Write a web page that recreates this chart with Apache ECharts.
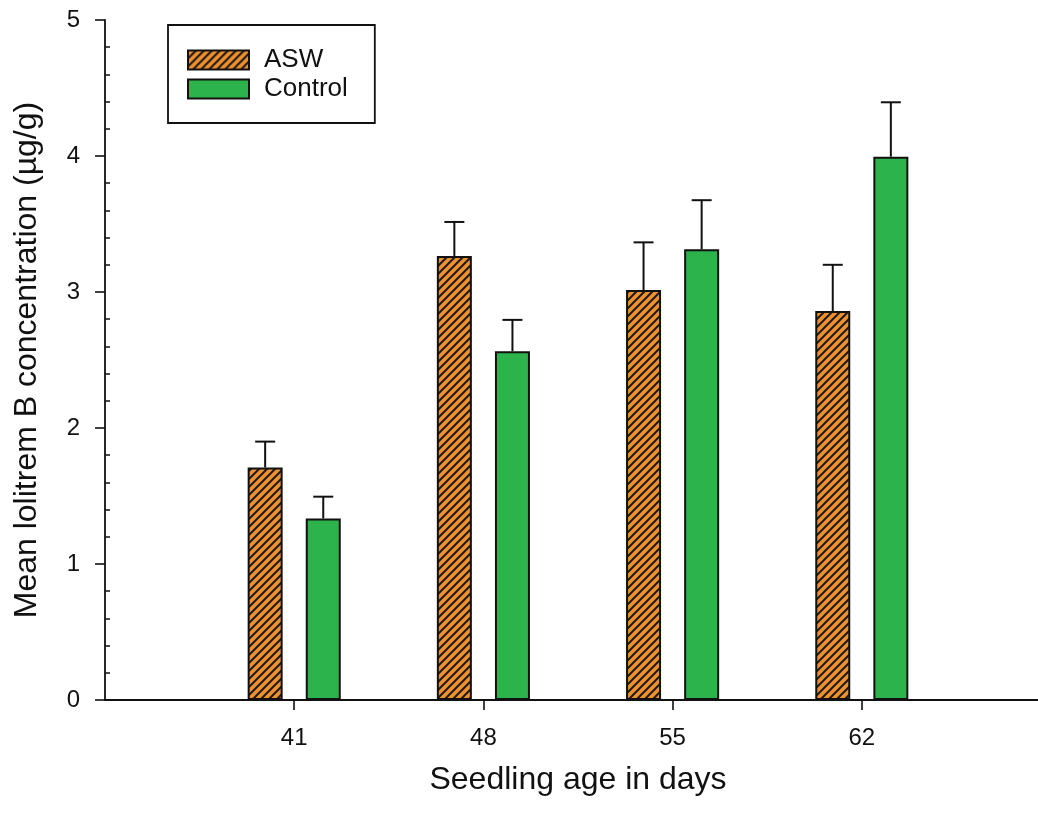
<!DOCTYPE html>
<html>
<head>
<meta charset="utf-8">
<script src="https://cdn.jsdelivr.net/npm/echarts@6/dist/echarts.min.js"></script>
<style>
  html, body { margin: 0; padding: 0; background: #fff; }
  #chart { width: 1038px; height: 814px; }
</style>
</head>
<body>
<div id="chart"></div>
<script>
// Seedling ages (days) and mean lolitrem B concentration with standard errors
const days = [41, 48, 55, 62];
const aswMean = [1.71, 3.265, 3.015, 2.86];
const aswErr = [0.19, 0.25, 0.35, 0.34];
const controlMean = [1.335, 2.565, 3.315, 3.995];
const controlErr = [0.16, 0.23, 0.36, 0.40];
const yTicks = [0, 1, 2, 3, 4, 5];

const FONT = '"Liberation Sans", Arial, Helvetica, sans-serif';
const INK = '#111';
const ORANGE = '#F0902C';
const GREEN = '#2DB34B';
const BAR_W = 35;
const BAR_GAP = 0.66;
const BAR_OFFSET = BAR_W * (1 + BAR_GAP) / 2;
const CAP_HALF = 10;

// Diagonal hatch fill for the ASW bars
function hatchPattern() {
  const s = 8;
  const c = document.createElement('canvas');
  c.width = s; c.height = s;
  const g = c.getContext('2d');
  g.fillStyle = ORANGE;
  g.fillRect(0, 0, s, s);
  g.strokeStyle = '#1a1a1a';
  g.lineWidth = 2;
  g.beginPath();
  g.moveTo(-1, s + 1); g.lineTo(s + 1, -1);
  g.moveTo(-2, 2); g.lineTo(2, -2);
  g.moveTo(s - 2, s + 2); g.lineTo(s + 2, s - 2);
  g.stroke();
  return { image: c, repeat: 'repeat' };
}

// Minor tick positions between the labelled integers
const minorTicks = [];
for (let i = 0; i < yTicks.length - 1; i++) {
  for (let k = 1; k < 5; k++) minorTicks.push(+(yTicks[i] + k * 0.2).toFixed(1));
}

function errorBars(name, means, errs, offset) {
  return {
    name: name,
    type: 'custom',
    z: 5,
    data: days.map((d, i) => [d, means[i], errs[i]]),
    encode: { x: 0, y: 1 },
    renderItem: function (params, api) {
      const x = api.value(0), m = api.value(1), e = api.value(2);
      const base = api.coord([x, m]);
      const top = api.coord([x, m + e]);
      const cx = base[0] + offset;
      const st = { stroke: INK, lineWidth: 2 };
      return {
        type: 'group',
        children: [
          { type: 'line', shape: { x1: cx, y1: base[1], x2: cx, y2: top[1] }, style: st },
          { type: 'line', shape: { x1: cx - CAP_HALF, y1: top[1], x2: cx + CAP_HALF, y2: top[1] }, style: st }
        ]
      };
    }
  };
}

const chart = echarts.init(document.getElementById('chart'), null, { renderer: 'canvas' });
chart.setOption({
  animation: false,
  backgroundColor: '#fff',
  textStyle: { fontFamily: FONT, color: INK },
  grid: { left: 105, top: 20, bottom: 114, right: -13, containLabel: false, outerBoundsMode: 'none' },
  legend: {
    data: ['ASW', 'Control'],
    orient: 'vertical',
    left: 168,
    top: 25,
    padding: [22, 27, 21, 19],
    itemWidth: 61,
    itemHeight: 19,
    itemGap: 3,
    icon: 'rect',
    borderColor: INK,
    borderWidth: 1.8,
    borderRadius: 0,
    textStyle: { fontSize: 26, fontFamily: FONT, color: INK, padding: [0, 0, 0, 10] }
  },
  xAxis: {
    type: 'value',
    min: 34,
    max: 69,
    interval: 7,
    name: 'Seedling age in days',
    nameLocation: 'middle',
    nameGap: 64,
    nameTextStyle: { fontSize: 32, fontFamily: FONT, color: INK },
    axisLine: { show: true, onZero: false, lineStyle: { color: INK, width: 1.8 } },
    axisTick: { show: true, length: 10, customValues: days, lineStyle: { color: INK, width: 1.6 } },
    axisLabel: { fontSize: 24, margin: 26, color: INK, customValues: days },
    splitLine: { show: false }
  },
  yAxis: [
    {
      type: 'value',
      min: 0,
      max: 5,
      interval: 1,
      name: 'Mean lolitrem B concentration (µg/g)',
      nameLocation: 'middle',
      nameGap: 62,
      nameTextStyle: { fontSize: 32, fontFamily: FONT, color: INK },
      axisLine: { show: true, lineStyle: { color: INK, width: 1.8 } },
      axisTick: { show: true, length: 10, lineStyle: { color: INK, width: 1.6 } },
      axisLabel: { fontSize: 24, margin: 25, color: INK },
      splitLine: { show: false }
    },
    {
      type: 'value',
      position: 'left',
      min: 0,
      max: 5,
      axisLine: { show: false },
      axisTick: { show: true, inside: true, length: 5, customValues: minorTicks, lineStyle: { color: INK, width: 1.5 } },
      axisLabel: { show: false },
      splitLine: { show: false }
    }
  ],
  series: [
    {
      name: 'ASW',
      type: 'bar',
      barWidth: BAR_W,
      barGap: (BAR_GAP * 100) + '%',
      data: days.map((d, i) => [d, aswMean[i]]),
      itemStyle: { color: hatchPattern(), borderColor: INK, borderWidth: 2 }
    },
    {
      name: 'Control',
      type: 'bar',
      barWidth: BAR_W,
      barGap: (BAR_GAP * 100) + '%',
      data: days.map((d, i) => [d, controlMean[i]]),
      itemStyle: { color: GREEN, borderColor: INK, borderWidth: 2 }
    },
    errorBars('ASW SE', aswMean, aswErr, -BAR_OFFSET),
    errorBars('Control SE', controlMean, controlErr, BAR_OFFSET)
  ]
});
</script>
</body>
</html>
